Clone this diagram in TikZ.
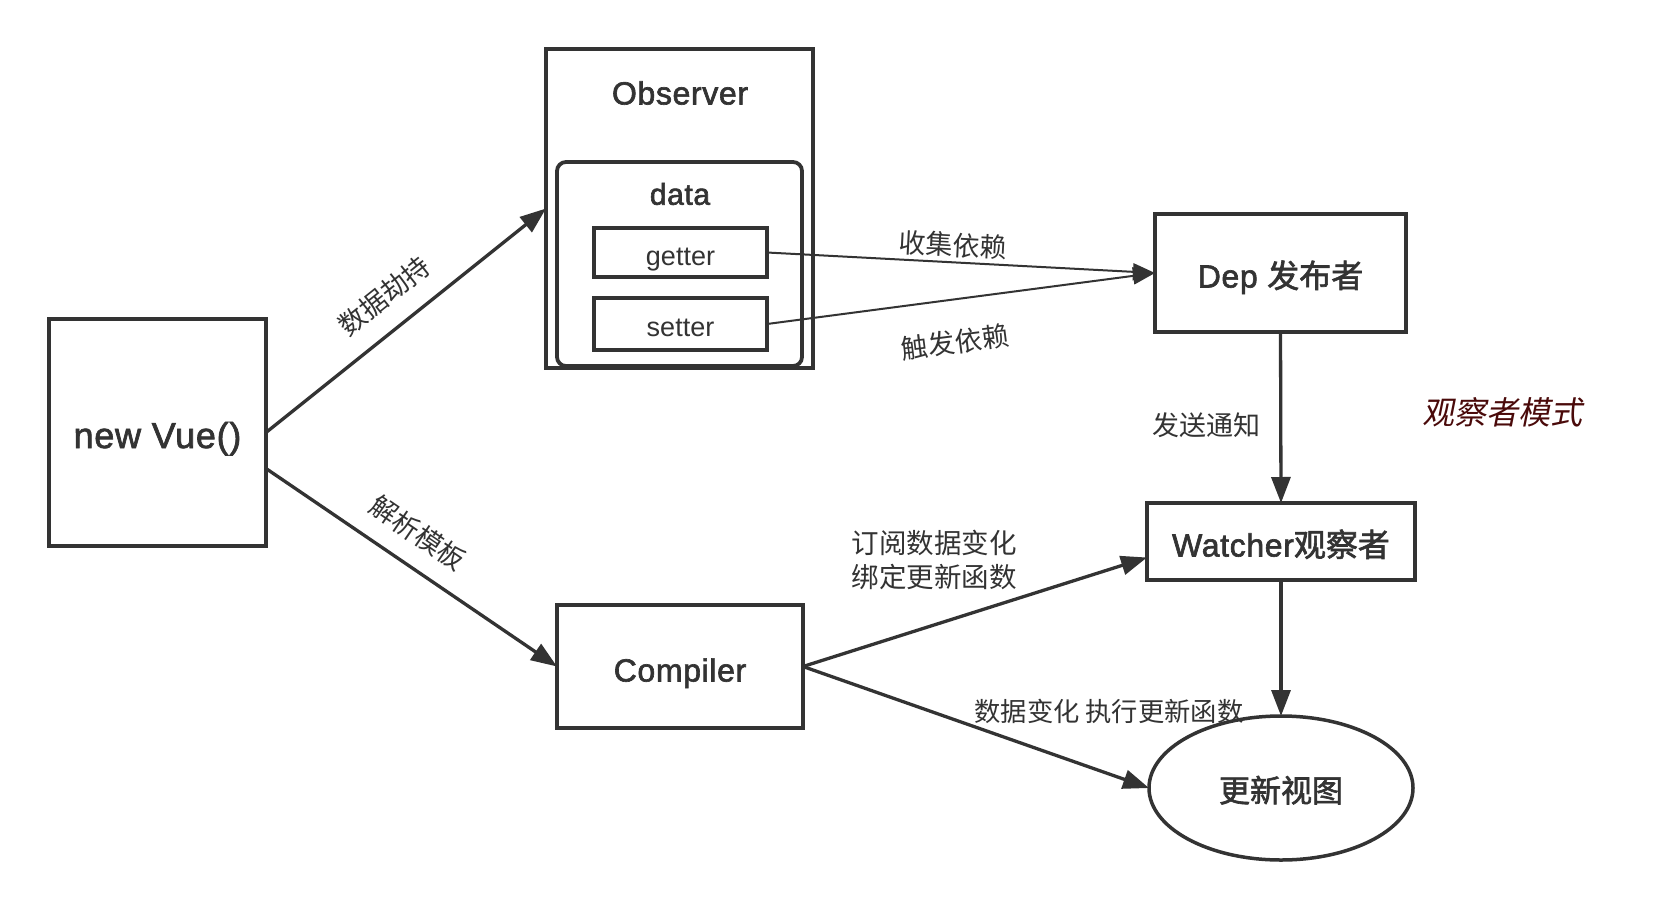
\documentclass[tikz,border=0pt]{standalone}
\usepackage{fontspec}
\setmainfont{Liberation Sans}
\newfontfamily\cjk{Noto Sans CJK SC}
\newfontfamily\medfont[FakeBold=2,LetterSpace=2]{Liberation Sans}
\newfontfamily\cjkmed[FakeBold=2]{Noto Sans CJK SC}
\newfontfamily\cjkit[FakeSlant=0.2]{Noto Sans CJK SC}
\usetikzlibrary{arrows.meta,shapes.geometric,calc}
\definecolor{ink}{HTML}{333333}
\definecolor{maroonish}{HTML}{4A0A0A}
\begin{document}
\begin{tikzpicture}[x=1pt,y=-1pt,
  box/.style={draw=ink,line width=3.8pt,inner sep=0pt,outer sep=0pt,text=ink,text height=30pt,text depth=0pt},
  bigtxt/.style={font=\fontsize{32}{38}\selectfont\medfont,text=ink},
  smalltxt/.style={font=\fontsize{27}{34}\selectfont\cjk,text=ink},
  arr/.style={draw=ink,line width=3.3pt,-{Triangle[length=26pt,width=19pt]}},
  thinarr/.style={draw=ink,line width=2pt,-{Triangle[length=22pt,width=17pt]}}]
\useasboundingbox[fill=white] (0,0) rectangle (1670,910);
% new Vue()
\node[box,minimum width=217pt,minimum height=227pt,font=\fontsize{36}{42}\selectfont\medfont,text height=31pt] (nv) at (157.5,432.5) {new Vue()};
% Observer
\node[box,minimum width=267pt,minimum height=319pt] (obs) at (679.5,208.5) {};
\draw[ink,line width=3.8pt,rounded corners=9pt] (557,162) rectangle (802,366);
\node[bigtxt] (obst) at (680,93) {Observer};
\node[bigtxt,font=\fontsize{30}{36}\selectfont\medfont] (datat) at (680,194) {data};
\node[box,minimum width=173pt,minimum height=49pt,font=\fontsize{27}{32}\selectfont,text height=26pt] (get) at (680.5,252.5) {getter};
\node[box,minimum width=173pt,minimum height=52pt,font=\fontsize{27}{32}\selectfont,text height=24pt] (set) at (680.5,324) {setter};
% Dep
\node[box,minimum width=251pt,minimum height=118pt,bigtxt,text height=29pt] (dep) at (1280.5,273) {Dep {\cjkmed 发布者}};
% Watcher
\node[box,minimum width=268pt,minimum height=77pt,bigtxt] (wat) at (1281,541.5) {Watcher{\cjkmed 观察者}};
% Compiler
\node[box,minimum width=246pt,minimum height=123pt,bigtxt] (comp) at (680,666.5) {Compiler};
% update view
\node[ellipse,draw=ink,line width=3.5pt,minimum width=264pt,minimum height=144pt,inner sep=0pt,outer sep=0pt,font=\fontsize{31}{36}\selectfont\cjkmed,text=ink,text height=28pt,text depth=0pt] (upd) at (1281,788) {更新视图};
% connectors
\coordinate (nvx) at ([yshift=-36pt]nv.east);
\coordinate (watin) at ([yshift=-16pt]wat.west);
\draw[arr] (nv.east) -- (obs.west);
\draw[arr] (nvx) -- (comp.west);
\draw[thinarr] (get.east) -- (dep.west);
\draw[thinarr] (set.east) -- (dep.west);
\draw[arr] (dep.south) -- (wat.north);
\draw[arr] (wat.south) -- (upd.north);
\draw[arr] (comp.east) -- (watin);
\draw[arr] (comp.east) -- (upd.west);
% labels
\node[smalltxt,rotate=38.7] (l1) at (384,296) {数据劫持};
\node[smalltxt,rotate=-34.4] (l2) at (418,533) {解析模板};
\node[smalltxt,rotate=-3] (l3) at (953,245) {收集依赖};
\node[smalltxt,rotate=7.3] (l4) at (955,342) {触发依赖};
\node[smalltxt] (l5) at (1206,425) {发送通知};
\node[font=\fontsize{32}{38}\selectfont\cjkit,text=maroonish] (l6) at (1502,412) {观察者模式};
\node[smalltxt,align=left,font=\fontsize{27.5}{34}\selectfont\cjk] (l7) at (934,560) {订阅数据变化\\绑定更新函数};
\node[smalltxt,anchor=west,font=\fontsize{26.3}{32}\selectfont\cjk] (l8) at (971,711) {数据变化 执行更新函数};
\end{tikzpicture}
\end{document}
